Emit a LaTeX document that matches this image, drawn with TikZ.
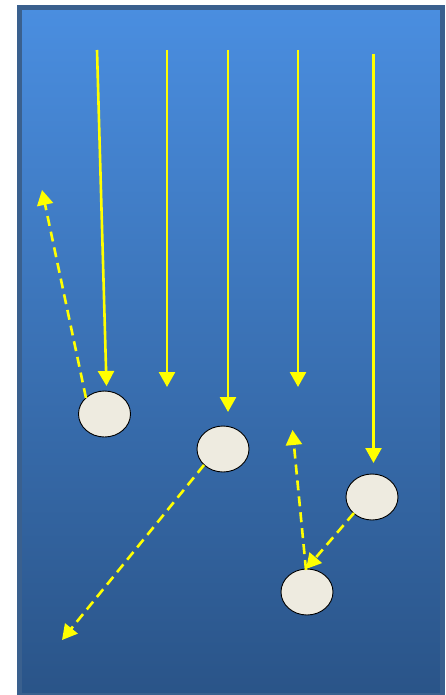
\documentclass[tikz,border=0pt]{standalone}
\usetikzlibrary{arrows.meta,shapes.geometric}
\definecolor{topblue}{RGB}{74,142,224}
\definecolor{botblue}{RGB}{42,84,136}
\definecolor{framec}{RGB}{58,96,142}
\definecolor{cream}{RGB}{238,235,224}
\definecolor{ray}{RGB}{255,255,0}
\begin{document}
\begin{tikzpicture}[x=1pt,y=-1pt,
  particle/.style={ellipse,draw=black,line width=0.9pt,fill=cream,minimum width=52pt,minimum height=46pt,inner sep=0pt},
  inray/.style={draw=ray,line width=2.6pt,-{Triangle[length=15pt,width=16pt]}},
  outray/.style={draw=ray,line width=2.6pt,dash pattern=on 10pt off 6pt,-{Triangle[length=15pt,width=16pt]}}]
\useasboundingbox (0,0) rectangle (446,695);
\node[draw=framec,line width=5pt,top color=topblue,bottom color=botblue,minimum width=423.5pt,minimum height=688pt,inner sep=0pt,anchor=north west] (bg) at (16.5,5) {};
\node[particle] (e1) at (104.5,414) {};
\node[particle] (e2) at (223,449) {};
\node[particle] (e3) at (372,497) {};
\node[particle] (e4) at (307,592) {};
% incoming rays
\coordinate (s1) at (97,50);  \coordinate (t1) at (106.5,386);
\coordinate (s2) at (167,50); \coordinate (t2) at (167,387);
\coordinate (s3) at (228,50); \coordinate (t3) at (228,412);
\coordinate (s4) at (298,50); \coordinate (t4) at (298,387);
\coordinate (s5) at (373.5,54); \coordinate (t5) at (373.5,463);
\draw[inray] (s1) -- (t1);
\draw[inray] (s2) -- (t2);
\draw[inray] (s3) -- (t3);
\draw[inray] (s4) -- (t4);
\draw[inray] (s5) -- (t5);
% scattered rays
\coordinate (d1s) at (86,398); \coordinate (d1t) at (42,190);
\coordinate (d2s) at (204,465); \coordinate (d2t) at (62,640);
\coordinate (d3s) at (306,570); \coordinate (d3t) at (292.5,430);
\coordinate (d4s) at (354,513); \coordinate (d4t) at (306,569);
\draw[outray] (d1s) -- (d1t);
\draw[outray] (d2s) -- (d2t);
\draw[outray] (d3s) -- (d3t);
\draw[outray] (d4s) -- (d4t);
\end{tikzpicture}
\end{document}
